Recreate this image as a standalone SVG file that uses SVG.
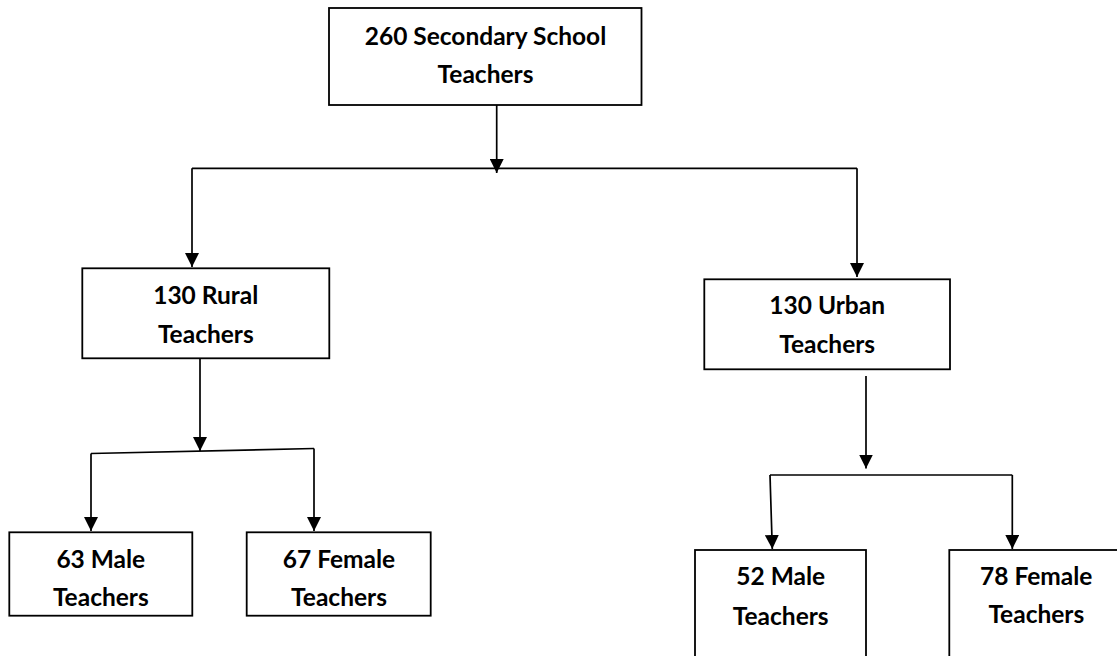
<svg xmlns="http://www.w3.org/2000/svg" width="1117" height="656" viewBox="0 0 1117 656">
  <style>
    .box { fill: #ffffff; stroke: #000000; stroke-width: 1.8; }
    .lbl { font-family: Lato, "Open Sans", "Liberation Sans", sans-serif; font-weight: bold; font-size: 24.5px; fill: #000000; text-anchor: middle; }
    .ln { stroke: #000000; stroke-width: 1.7; fill: none; }
    .arr { stroke: #000000; stroke-width: 1.7; fill: none; marker-end: url(#ah); }
  </style>
  <defs>
    <marker id="ah" viewBox="0 0 14 14" refX="14" refY="7" markerWidth="14" markerHeight="14" markerUnits="userSpaceOnUse" orient="auto">
      <path d="M0,0 L14,7 L0,14 z" fill="#000000"/>
    </marker>
  </defs>
  <rect width="1117" height="656" fill="#ffffff"/>

  <g id="connectors">
    <line class="arr" x1="496.7" y1="105" x2="496.7" y2="173"/>
    <line class="ln" x1="192" y1="168.3" x2="857" y2="168.3"/>
    <line class="arr" x1="192" y1="168.3" x2="192" y2="267"/>
    <line class="arr" x1="857" y1="168.3" x2="857" y2="277"/>

    <line class="arr" x1="200" y1="358" x2="200" y2="451"/>
    <line class="ln" x1="91" y1="453.5" x2="314" y2="448.5"/>
    <line class="arr" x1="91" y1="453.5" x2="91" y2="531"/>
    <line class="arr" x1="314" y1="448.5" x2="314" y2="531"/>

    <line class="arr" x1="866" y1="376" x2="866" y2="468.5"/>
    <line class="ln" x1="770" y1="475" x2="1012.3" y2="475"/>
    <line class="arr" x1="770" y1="475" x2="772.3" y2="549"/>
    <line class="arr" x1="1012.3" y1="475" x2="1012.3" y2="549"/>
  </g>

  <g id="node-total">
    <rect class="box" x="329" y="8" width="312.5" height="97"/>
    <text class="lbl" x="485.5" y="45">260 Secondary School</text>
    <text class="lbl" x="485.5" y="83">Teachers</text>
  </g>

  <g id="node-rural">
    <rect class="box" x="82.3" y="268.3" width="247" height="90"/>
    <text class="lbl" x="205.8" y="304">130 Rural</text>
    <text class="lbl" x="205.8" y="342.7">Teachers</text>
  </g>

  <g id="node-urban">
    <rect class="box" x="704.3" y="279.3" width="245.7" height="90"/>
    <text class="lbl" x="827.2" y="314.3">130 Urban</text>
    <text class="lbl" x="827.2" y="352.7">Teachers</text>
  </g>

  <g id="node-rural-male">
    <rect class="box" x="9.3" y="532.3" width="183" height="83.4"/>
    <text class="lbl" x="100.8" y="568.3">63 Male</text>
    <text class="lbl" x="100.8" y="606">Teachers</text>
  </g>

  <g id="node-rural-female">
    <rect class="box" x="246.7" y="532.3" width="184" height="83.4"/>
    <text class="lbl" x="339" y="568.3">67 Female</text>
    <text class="lbl" x="339" y="606">Teachers</text>
  </g>

  <g id="node-urban-male">
    <rect class="box" x="695" y="550" width="171" height="130"/>
    <text class="lbl" x="780.7" y="585">52 Male</text>
    <text class="lbl" x="780.7" y="625">Teachers</text>
  </g>

  <g id="node-urban-female">
    <rect class="box" x="949.3" y="550" width="190" height="130"/>
    <text class="lbl" x="1036.3" y="585">78 Female</text>
    <text class="lbl" x="1036.3" y="623.3">Teachers</text>
  </g>
</svg>
